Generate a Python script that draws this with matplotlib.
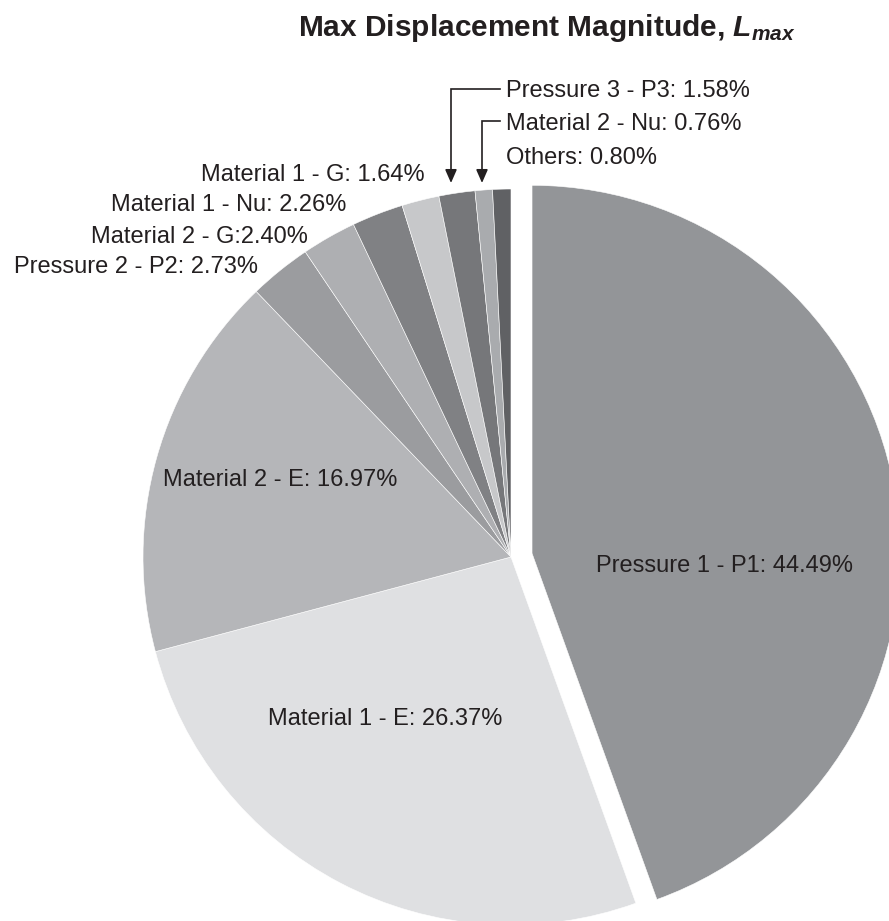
import matplotlib
matplotlib.use("Agg")
import matplotlib.pyplot as plt

# ---- data ----
categories = ["Pressure 1 - P1", "Material 1 - E", "Material 2 - E", "Pressure 2 - P2",
              "Material 2 - G", "Material 1 - Nu", "Material 1 - G", "Pressure 3 - P3",
              "Material 2 - Nu", "Others"]
values = [44.49, 26.37, 16.97, 2.73, 2.40, 2.26, 1.64, 1.58, 0.76, 0.80]
label_texts = ["Pressure 1 - P1: 44.49%", "Material 1 - E: 26.37%", "Material 2 - E: 16.97%",
               "Pressure 2 - P2: 2.73%", "Material 2 - G:2.40%", "Material 1 - Nu: 2.26%",
               "Material 1 - G: 1.64%", "Pressure 3 - P3: 1.58%", "Material 2 - Nu: 0.76%",
               "Others: 0.80%"]
colors = ["#939598", "#dfe0e2", "#b5b6b9", "#9b9c9f", "#aeafb2",
          "#808184", "#c7c8ca", "#76777a", "#a9abae", "#606164"]
explode_frac = [0.058, 0, 0, 0, 0, 0, 0, 0, 0, 0]

W, H = 889, 921
plt.rcParams['font.family'] = ['Liberation Sans', 'DejaVu Sans']
plt.rcParams['mathtext.fontset'] = 'custom'
plt.rcParams['mathtext.it'] = 'Liberation Sans:italic:bold'
plt.rcParams['mathtext.rm'] = 'Liberation Sans:bold'

fig = plt.figure(figsize=(W / 100, H / 100), dpi=100)
ax = fig.add_axes([0, 0, 1, 1])

def Y(y):
    return H - y

cx, cy, r = 511, 557, 368
ax.pie(values, colors=colors, explode=[e * r for e in explode_frac], startangle=90,
       counterclock=False, center=(cx, Y(cy)), radius=r, frame=True,
       wedgeprops=dict(edgecolor="white", linewidth=0.4))
ax.set_xlim(0, W)
ax.set_ylim(0, H)
ax.set_aspect('equal')
ax.axis('off')

fs = 17
tc = "#231f20"
# inside labels
ax.text(724, Y(566), label_texts[0], ha='center', va='center', fontsize=fs, color=tc)
ax.text(385, Y(719), label_texts[1], ha='center', va='center', fontsize=fs, color=tc)
ax.text(280, Y(480), label_texts[2], ha='center', va='center', fontsize=fs, color=tc)
# outside left labels (right aligned)
ax.text(258, Y(267), label_texts[3], ha='right', va='center', fontsize=fs, color=tc)
ax.text(308, Y(237), label_texts[4], ha='right', va='center', fontsize=fs, color=tc)
ax.text(346, Y(205), label_texts[5], ha='right', va='center', fontsize=fs, color=tc)
ax.text(425, Y(175), label_texts[6], ha='right', va='center', fontsize=fs, color=tc)
# top-right labels
ax.text(506, Y(91), label_texts[7], ha='left', va='center', fontsize=fs, color=tc)
ax.text(506, Y(124), label_texts[8], ha='left', va='center', fontsize=fs, color=tc)
ax.text(506, Y(158), label_texts[9], ha='left', va='center', fontsize=fs, color=tc)

# leader arrows
for (xh, yh, xv) in [(500, 89, 451), (500, 121, 482)]:
    ax.plot([xh, xv, xv], [Y(yh), Y(yh), Y(172)], color=tc, lw=1.2, solid_joinstyle='miter')
    ax.annotate("", xy=(xv, Y(183)), xytext=(xv, Y(170)),
                arrowprops=dict(arrowstyle="-|>,head_length=0.8,head_width=0.35",
                                color=tc, lw=1.2, shrinkA=0, shrinkB=0))

ax.text(547, Y(28), r"Max Displacement Magnitude, $L_{max}$", ha='center', va='center',
        fontsize=21.5, fontweight='bold', color=tc)

fig.savefig("out.png", dpi=100)
